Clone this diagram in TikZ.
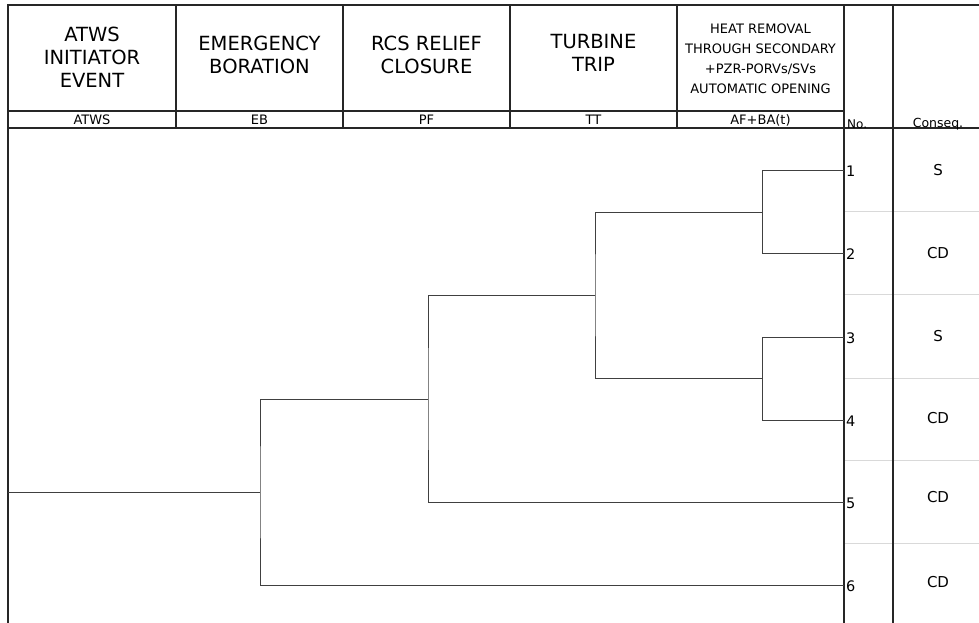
\documentclass[tikz,border=0pt]{standalone}
\usepackage{fontspec}
\setmainfont{DejaVu Sans}
\usetikzlibrary{positioning}

\begin{document}
\begin{tikzpicture}[x=1pt, y=-1pt,
    frame/.style={line width=1.2pt, draw=black!85},
    branch/.style={line width=1pt, draw=black!75},
    grid/.style={line width=0.8pt, draw=black!15},
    head/.style={font=\fontsize{19.5}{23}\selectfont, align=center, inner sep=0pt},
    smallhead/.style={font=\fontsize{13}{20}\selectfont, align=center, inner sep=0pt},
    code/.style={font=\fontsize{13}{14}\selectfont, inner sep=0pt},
    seqno/.style={font=\fontsize{14.5}{16}\selectfont, anchor=west, inner sep=0pt},
    conseq/.style={font=\fontsize{15}{16}\selectfont, inner sep=0pt}]
  \useasboundingbox (0,0) rectangle (979,623);

  % consequence grid
  \foreach \y in {211,294,378,460,543}
    \draw[grid] (844,\y) -- (979,\y);

  % header frame
  \draw[frame] (8,623) -- (8,5) -- (979,5);
  \draw[frame] (8,111) -- (844,111);
  \draw[frame] (8,128) -- (979,128);
  \foreach \x in {176,343,510,677}
    \draw[frame] (\x,5) -- (\x,128);
  \draw[frame] (844,5) -- (844,623);
  \draw[frame] (893,5) -- (893,623);

  % header titles
  \node[head] (atwsTitle) at (92,57) {ATWS\\INITIATOR\\EVENT};
  \node[head] (ebTitle) at (259.5,55) {EMERGENCY\\BORATION};
  \node[head] (pfTitle) at (426.5,55) {RCS RELIEF\\CLOSURE};
  \node[head] (ttTitle) at (593.5,53) {TURBINE\\TRIP};
  \node[smallhead] (afTitle) at (760.5,59) {HEAT REMOVAL\\THROUGH SECONDARY\\+PZR-PORVs/SVs\\AUTOMATIC OPENING};

  % header codes
  \node[code] (atwsCode) at (92,120) {ATWS};
  \node[code] (ebCode) at (259.5,120) {EB};
  \node[code] (pfCode) at (426.5,120) {PF};
  \node[code] (ttCode) at (593.5,120) {TT};
  \node[code] (afCode) at (760.5,120) {AF+BA(t)};
  \node[font=\fontsize{12}{13}\selectfont, anchor=west, inner sep=0pt] (noHead) at (847,124) {No.};
  \node[font=\fontsize{12.5}{14}\selectfont, inner sep=0pt] (conseqHead) at (938,124) {Conseq.};

  % sequences
  \foreach \i/\y/\c/\cy in {1/170/S/170, 2/253/CD/253, 3/337/S/336,
                            4/420/CD/418, 5/502/CD/497, 6/585/CD/582} {
    \coordinate (e\i) at (844,\y);
    \node[seqno] (no\i) at (846,\y+1) {\i};
    \node[conseq] (c\i) at (938,\cy) {\c};
  }

  % branch points
  \coordinate (init) at (8,492);
  \coordinate (eb) at (260,492);
  \coordinate (pf) at (428,399);
  \coordinate (tt) at (595,295);
  \coordinate (afA) at (762,212);
  \coordinate (afB) at (762,378);

  % event tree
  \draw[branch] (init) -- (eb);
  \draw[branch] (pf) -| (eb) |- (e6);
  \draw[branch] (tt) -| (pf) |- (e5);
  \draw[branch] (afA) -| (tt) |- (afB);
  \draw[branch] (e1) -| (afA) |- (e2);
  \draw[branch] (e3) -| (afB) |- (e4);
\end{tikzpicture}
\end{document}
